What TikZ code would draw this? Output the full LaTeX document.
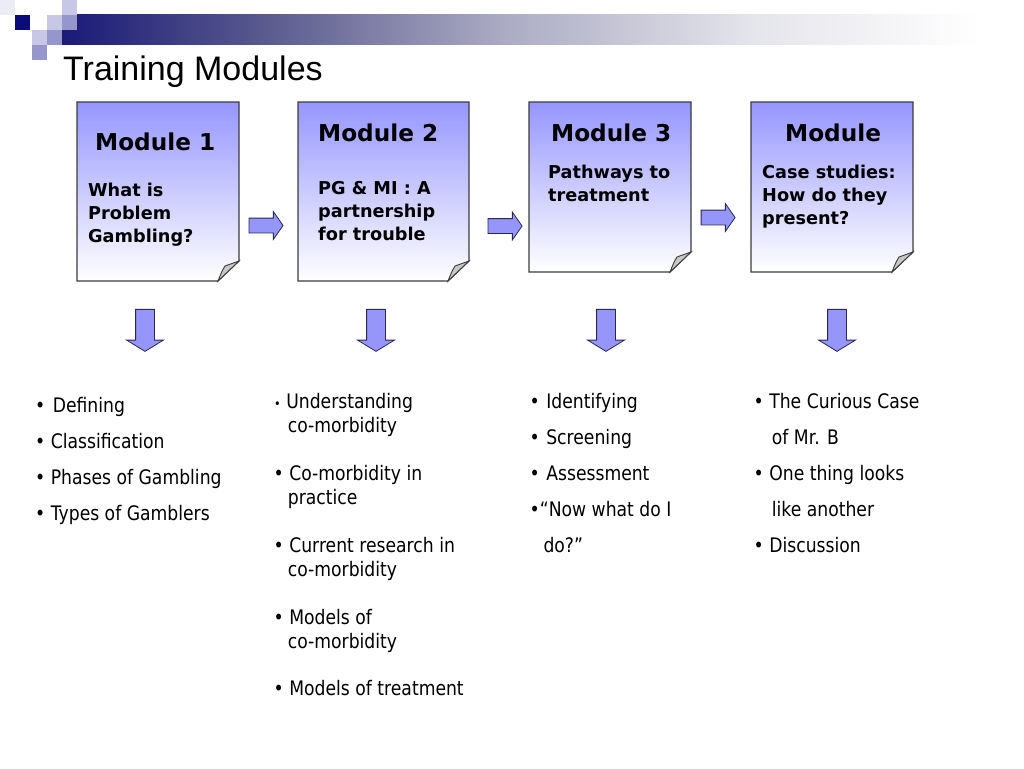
\documentclass[tikz,border=0pt]{standalone}
\usepackage{fontspec}
\setmainfont{Liberation Sans}
\newfontfamily\hfont{DejaVu Sans}
\newfontfamily\bfont{DejaVu Sans}[FakeStretch=0.86]
\usetikzlibrary{shapes.arrows}
\definecolor{navyA}{RGB}{26,26,120}
\definecolor{bstopA}{RGB}{85,85,140}
\definecolor{bstopB}{RGB}{170,170,195}
\definecolor{bstopC}{RGB}{228,228,235}
\definecolor{sqnavy}{RGB}{12,12,120}
\definecolor{sqlight}{RGB}{200,200,230}
\definecolor{sqmid}{RGB}{150,150,205}
\definecolor{sqfaint}{RGB}{236,236,246}
\definecolor{boxtop}{RGB}{150,150,255}
\definecolor{boxline}{RGB}{60,60,60}
\definecolor{arrfill}{RGB}{150,150,250}
\definecolor{arrline}{RGB}{40,40,80}
\definecolor{flapgray}{RGB}{200,200,200}
\pgfdeclarehorizontalshading{bannershade}{100bp}{color(0bp)=(navyA); color(25bp)=(navyA); color(35.2bp)=(bstopA); color(48.9bp)=(bstopB); color(62.5bp)=(bstopC); color(75bp)=(white); color(100bp)=(white)}
\newcommand\foldbox[4]{%
  \path[draw=boxline, line width=1.2pt, top color=boxtop, bottom color=white]
    (#1,#2) -- (#3,#2) -- (#3,#4-20) -- (#3-21,#4) -- (#1,#4) -- cycle;
  \path[draw=boxline, line width=0.9pt, fill=flapgray]
    (#3-21,#4) .. controls (#3-17,#4-10) .. (#3-14,#4-15) -- (#3,#4-20) -- cycle;
}
\tikzset{
  titletext/.style={anchor=base west, inner sep=0pt, font=\fontsize{34}{40}\selectfont},
  modhead/.style={anchor=base west, inner sep=0pt, font=\hfont\bfseries\fontsize{23.2}{28}\selectfont},
  modtext/.style={anchor=base west, inner sep=0pt, font=\hfont\bfseries\fontsize{17.7}{22}\selectfont},
  item/.style={anchor=base west, inner sep=0pt, font=\bfont\fontsize{20}{24}\selectfont},
  rarr/.style={single arrow, draw=arrline, fill=arrfill, line width=0.8pt,
    minimum height=34pt, single arrow head extend=6.5pt,
    single arrow tip angle=110, inner xsep=0pt, inner ysep=7pt},
  darr/.style={single arrow, draw=arrline, fill=arrfill, line width=0.8pt,
    minimum height=42pt, single arrow head extend=9pt,
    single arrow tip angle=117, inner xsep=0pt, inner ysep=9pt, rotate=-90}
}
\begin{document}
\begin{tikzpicture}[x=1pt,y=-1pt]
\useasboundingbox (0,0) rectangle (1024,768);
\fill[white] (0,0) rectangle (1024,768);
% banner
\shade[shading=bannershade] (62,15) rectangle (980,45);
\fill[sqfaint] (0,0) rectangle (15,15);
\fill[sqlight] (62,0) rectangle (77,15);
\fill[sqnavy] (15,15) rectangle (30,30);
\fill[sqlight] (47,15) rectangle (62,30);
\fill[sqmid] (62,15) rectangle (77,30);
\fill[sqlight] (32,30) rectangle (47,45);
\fill[sqmid] (47,30) rectangle (62,45);
\fill[sqmid] (32,45) rectangle (47,60);
% title
\node[titletext] (title) at (63,81) {Training Modules};
% boxes
\foldbox{77}{102}{239}{281}
\foldbox{298}{102}{469}{281}
\foldbox{529}{102}{691}{272}
\foldbox{751}{102}{913}{272}
% box texts
\node[modhead] (h1) at (95,150) {Module 1};
\node[modtext] (t1a) at (88,196) {What is};
\node[modtext] (t1b) at (88,219) {Problem};
\node[modtext] (t1c) at (88,242) {Gambling?};
\node[modhead] (h2) at (318,141) {Module 2};
\node[modtext] (t2a) at (318,194) {PG \& MI : A};
\node[modtext] (t2b) at (318,217) {partnership};
\node[modtext] (t2c) at (318,240) {for trouble};
\node[modhead] (h3) at (551,141) {Module 3};
\node[modtext] (t3a) at (548,178) {Pathways to};
\node[modtext] (t3b) at (548,201) {treatment};
\node[modhead] (h4) at (785,141) {Module};
\node[modtext] (t4a) at (762,178) {Case studies:};
\node[modtext] (t4b) at (762,201) {How do they};
\node[modtext] (t4c) at (762,224) {present?};
% right arrows
\node[rarr] (r12) at (263.5,225.5) {};
\node[rarr] (r23) at (502.5,226) {};
\node[rarr] (r34) at (715.5,217.5) {};
% down arrows
\node[darr] (d1) at (145,327.5) {};
\node[darr] (d2) at (376,327.5) {};
\node[darr] (d3) at (606,327.5) {};
\node[darr] (d4) at (837,327.5) {};
% column 1
\node[item] (c1a) at (35,412) {• \kern2pt Defining};
\node[item] (c1b) at (35,448) {• Classification};
\node[item] (c1c) at (35,484) {• Phases of Gambling};
\node[item] (c1d) at (35,520) {• Types of Gamblers};
% column 2
\node[item] (c2a) at (274,408) {{\fontsize{13}{15}\selectfont•} Understanding};
\node[item] (c2b) at (287.7,432) {co-morbidity};
\node[item] (c2c) at (273.5,480) {• Co-morbidity in};
\node[item] (c2d) at (287.7,504) {practice};
\node[item] (c2e) at (273.5,552) {• Current research in};
\node[item] (c2f) at (287.7,576) {co-morbidity};
\node[item] (c2g) at (273.5,624) {• Models of};
\node[item] (c2h) at (287.7,648) {co-morbidity};
\node[item] (c2i) at (273.5,695) {• Models of treatment};
% column 3
\node[item] (c3a) at (529.5,408) {• \kern1pt Identifying};
\node[item] (c3b) at (529.5,444) {• \kern1pt Screening};
\node[item] (c3c) at (529.5,480) {• \kern1pt Assessment};
\node[item] (c3d) at (529.5,516) {•“Now what do I};
\node[item] (c3e) at (543.3,552) {do?”};
% column 4
\node[item] (c4a) at (753.5,408) {• The Curious Case};
\node[item] (c4b) at (771.7,444) {of Mr. B};
\node[item] (c4c) at (753.5,480) {• One thing looks};
\node[item] (c4d) at (771.7,516) {like another};
\node[item] (c4e) at (753.5,552) {• Discussion};
\end{tikzpicture}
\end{document}
